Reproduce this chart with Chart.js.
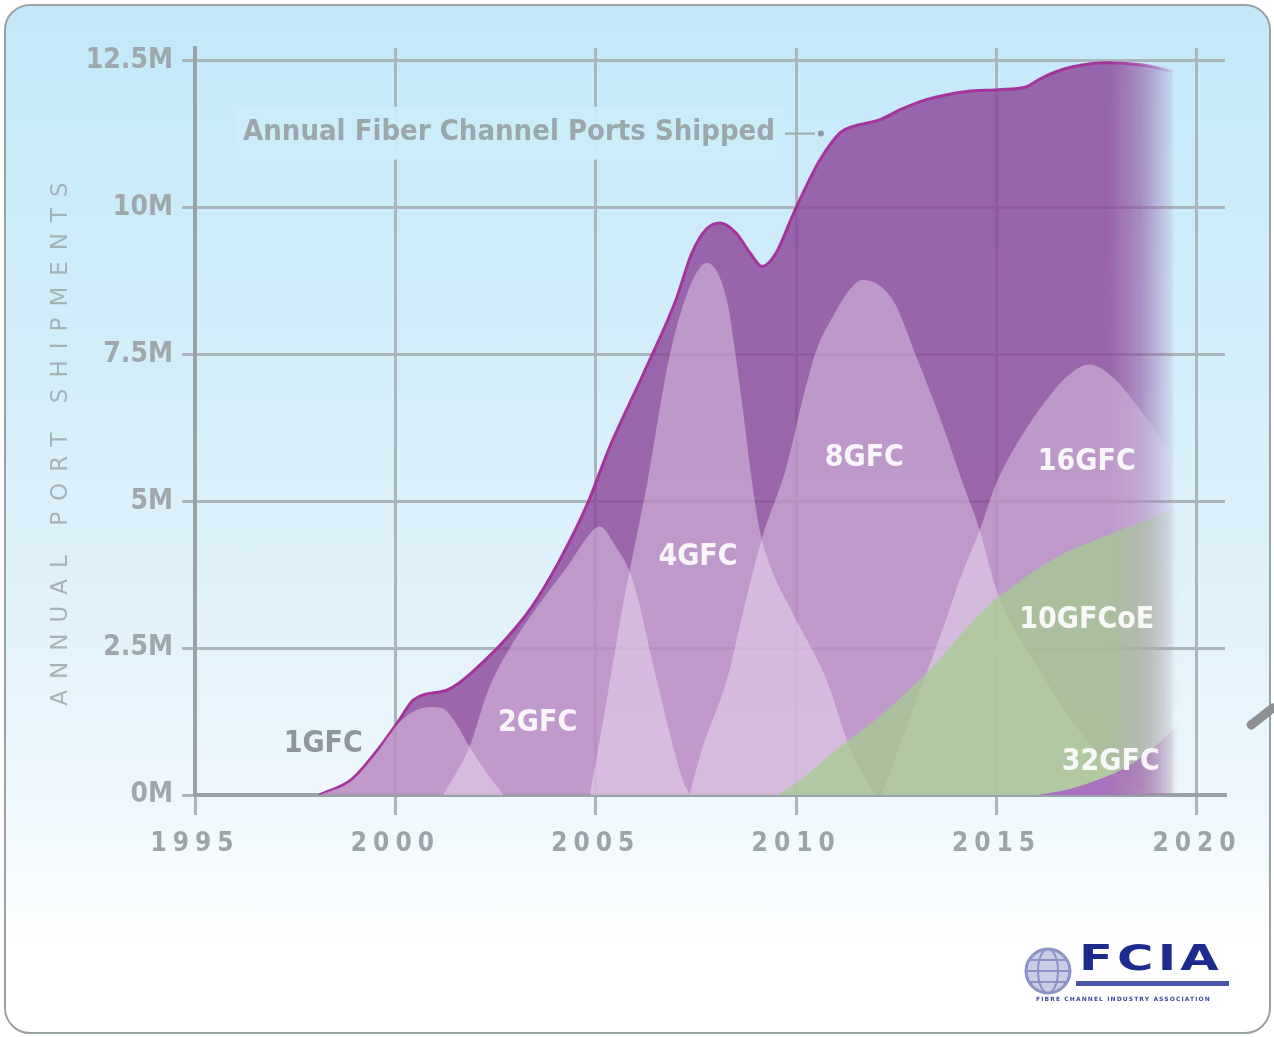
<!DOCTYPE html>
<html>
<head>
<meta charset="utf-8">
<script src="https://cdn.jsdelivr.net/npm/chart.js@4.4.1/dist/chart.umd.min.js"></script>
<style>
  html, body { margin: 0; padding: 0; background: #ffffff; }
  body { width: 1274px; height: 1037px; position: relative; overflow: hidden; font-family: 'DejaVu Sans', sans-serif; }
  #card {
    position: absolute; left: 4px; top: 4px; width: 1267px; height: 1030px;
    box-sizing: border-box; border: 2px solid #9aa1a5; border-radius: 26px;
    background: linear-gradient(to bottom, #c4e8f8 0%, #d1edf9 30%, #e1f2fb 60%, #eff8fd 78%, #ffffff 92%);
  }
  #chart { position: absolute; left: 0; top: 0; }
  #stroke {
    position: absolute; left: 1244px; top: 712px; width: 36px; height: 9px;
    background: #8c9093; border-radius: 4px; transform: rotate(-38deg);
  }
  #fcia {
    position: absolute; left: 1079px; top: 937px; font: 900 36px 'DejaVu Sans', sans-serif;
    color: #1d2b8c; letter-spacing: 3px; transform-origin: 0 0; transform: scaleX(1.38);
  }
  #fciabar { position: absolute; left: 1076px; top: 981px; width: 153px; height: 5px; background: #4a55a8; }
  #fciasub {
    position: absolute; left: 1036px; top: 995px; font: bold 6px 'DejaVu Sans', sans-serif;
    color: #3d4a9a; letter-spacing: 1.1px; white-space: nowrap;
  }
  #globe { position: absolute; left: 1022px; top: 946px; }
</style>
</head>
<body>
<div id="card"></div>
<div id="stroke"></div>
<canvas id="chart" width="1274" height="1037"></canvas>
<svg id="globe" width="52" height="50" viewBox="0 0 52 50">
  <circle cx="26" cy="25" r="22" fill="#c9cde5" stroke="#8c94c3" stroke-width="3"/>
  <ellipse cx="26" cy="25" rx="10" ry="22" fill="none" stroke="#8c94c3" stroke-width="2"/>
  <path d="M4 25 H48 M7 14 H45 M7 36 H45" stroke="#8c94c3" stroke-width="2" fill="none"/>
</svg>
<div id="fcia">FCIA</div>
<div id="fciabar"></div>
<div id="fciasub">FIBRE CHANNEL INDUSTRY ASSOCIATION</div>

<script>
// Axis ticks
const yearTicks = [1995, 2000, 2005, 2010, 2015, 2020];
const portTicks = [0, 2.5, 5, 7.5, 10, 12.5];

// Annual Fibre Channel ports shipped, millions
const totalYears = [1998.1, 1998.9, 1999.5, 2000.1, 2000.45, 2001.3, 2001.6, 2002.2, 2002.8, 2003.4,
  2004.1, 2004.8, 2005.35, 2006.2, 2007.0, 2007.4, 2007.75, 2008.1, 2008.5, 2008.85,
  2009.15, 2009.5, 2009.9, 2010.1, 2010.6, 2011.1, 2011.4, 2012.1, 2012.6, 2013.25,
  2014.25, 2015.05, 2015.75, 2016.05, 2016.5, 2016.9, 2017.75, 2018.55, 2019.05, 2019.4];
const totalPorts = [0, 0.26, 0.72, 1.28, 1.62, 1.79, 1.91, 2.27, 2.69, 3.2,
  4.0, 4.97, 5.93, 7.19, 8.43, 9.23, 9.63, 9.74, 9.57, 9.23,
  9.0, 9.23, 9.85, 10.15, 10.82, 11.28, 11.38, 11.5, 11.67, 11.84,
  11.98, 12.01, 12.06, 12.18, 12.32, 12.4, 12.47, 12.44, 12.38, 12.32];

// Per-generation shipments, millions
const gfc1Years = [1998.1, 1998.9, 1999.5, 2000.1, 2000.5, 2000.9, 2001.2, 2001.45, 2001.85, 2002.25, 2002.7];
const gfc1Ports = [0, 0.24, 0.69, 1.24, 1.44, 1.5, 1.47, 1.28, 0.82, 0.4, 0];

const gfc2Years = [2001.2, 2001.85, 2002.3, 2002.8, 2003.45, 2004.3, 2004.95, 2005.1, 2005.47, 2005.92, 2006.52, 2007.17, 2007.35];
const gfc2Ports = [0, 0.82, 1.76, 2.44, 3.12, 3.9, 4.52, 4.57, 4.26, 3.66, 1.96, 0.26, 0];

const gfc4Years = [2004.85, 2005.1, 2005.4, 2005.7, 2006.0, 2006.3, 2006.55, 2006.85, 2007.27, 2007.77,
  2008.27, 2008.47, 2008.67, 2008.89, 2009.09, 2009.34, 2009.91, 2010.76, 2011.33, 2011.96];
const gfc4Ports = [0, 0.94, 2.13, 3.32, 4.34, 5.37, 6.39, 7.5, 8.52, 9.06,
  8.43, 7.58, 6.56, 5.37, 4.51, 3.92, 3.1, 1.96, 0.82, 0];

const gfc8Years = [2007.34, 2007.67, 2008.27, 2008.67, 2009.16, 2009.76, 2010.16, 2010.51, 2010.91, 2011.33, 2011.66,
  2012.41, 2013.0, 2013.58, 2014.15, 2014.58, 2015.0, 2016.07, 2017.24, 2018.32, 2018.82];
const gfc8Ports = [0, 0.82, 1.96, 3.1, 4.4, 5.59, 6.73, 7.58, 8.14, 8.6, 8.77,
  8.43, 7.46, 6.44, 5.32, 4.51, 3.49, 2.13, 0.94, 0.2, 0];

const gfc16Years = [2012.13, 2012.88, 2013.65, 2014.08, 2014.58, 2015.0, 2015.57, 2016.25, 2016.75, 2017.32,
  2017.89, 2018.39, 2018.99, 2019.39, 2019.99];
const gfc16Ports = [0, 1.4, 2.81, 3.66, 4.51, 5.32, 6.05, 6.73, 7.12, 7.33,
  7.12, 6.73, 6.17, 5.71, 4.86];

const fcoeYears = [2009.55, 2010.1, 2010.9, 2012.1, 2013.4, 2014.6, 2015.5, 2016.5, 2017.5, 2018.5, 2019.4, 2020.0];
const fcoePorts = [0, 0.25, 0.72, 1.35, 2.18, 3.1, 3.6, 4.05, 4.35, 4.62, 4.86, 5.0];

const gfc32Years = [2016.0, 2016.8, 2017.5, 2018.3, 2019.0, 2019.6, 2020.1];
const gfc32Ports = [0, 0.1, 0.25, 0.5, 0.85, 1.25, 1.6];

// In-chart series labels
const seriesLabels = ['1GFC', '2GFC', '4GFC', '8GFC', '16GFC', '10GFCoE', '32GFC'];
const labelYears = [1998.2, 2003.55, 2007.55, 2011.7, 2017.25, 2017.25, 2017.85];
const labelPorts = [0.86, 1.23, 4.05, 5.74, 5.67, 2.98, 0.56];

const totalCaption = 'Annual Fiber Channel Ports Shipped';
const captionYear = 1996.2;
const captionPorts = 11.28;

const FONT = '"DejaVu Sans Condensed", "DejaVu Sans", sans-serif';
const fadeFrom = 2017.8;
const fadeTo = 2019.55;

function points(xs, ys) {
  return xs.map((x, i) => ({ x: x, y: ys[i] }));
}

// Colour that fades out towards the right edge of the plot
function fading(rgb, alpha) {
  return (ctx) => {
    const chart = ctx.chart;
    if (!chart.chartArea) return `rgba(${rgb},${alpha})`;
    const xs = chart.scales.x;
    const g = chart.ctx.createLinearGradient(xs.getPixelForValue(fadeFrom), 0, xs.getPixelForValue(fadeTo), 0);
    g.addColorStop(0, `rgba(${rgb},${alpha})`);
    g.addColorStop(0.45, `rgba(${rgb},${alpha * 0.7})`);
    g.addColorStop(0.8, `rgba(${rgb},${alpha * 0.25})`);
    g.addColorStop(1, `rgba(${rgb},0)`);
    return g;
  };
}

function area(data, fillRgb, fillAlpha, order) {
  return {
    data: data,
    fill: 'origin',
    backgroundColor: fading(fillRgb, fillAlpha),
    borderWidth: 0,
    borderColor: 'rgba(0,0,0,0)',
    pointRadius: 0,
    cubicInterpolationMode: 'monotone',
    order: order
  };
}

const BUMP = '250,242,253';
const datasets = [
  {
    data: points(totalYears, totalPorts),
    fill: 'origin',
    backgroundColor: fading('138,67,152', 0.8),
    borderColor: fading('163,52,156', 1),
    borderWidth: 3,
    pointRadius: 0,
    cubicInterpolationMode: 'monotone',
    order: 9
  },
  area(points(gfc1Years, gfc1Ports), BUMP, 0.37, 5),
  area(points(gfc2Years, gfc2Ports), BUMP, 0.37, 5),
  area(points(gfc4Years, gfc4Ports), BUMP, 0.37, 5),
  area(points(gfc8Years, gfc8Ports), BUMP, 0.37, 5),
  area(points(gfc16Years, gfc16Ports), BUMP, 0.37, 5),
  area(points(fcoeYears, fcoePorts), '161,206,138', 0.7, 2),
  area(points(gfc32Years, gfc32Ports), '168,98,192', 0.85, 1)
];

// Letter-spaced axis text
const spacing = {
  id: 'spacing',
  afterLayout(chart) {
    const xs = chart.scales.x, ys = chart.scales.y;
    if (!xs._spaced) {
      const drawX = xs.drawLabels.bind(xs);
      xs.drawLabels = function (a) { const c = chart.ctx; c.save(); c.letterSpacing = '6px'; drawX(a); c.restore(); };
      xs._spaced = true;
    }
    if (!ys._spaced) {
      const drawT = ys.drawTitle.bind(ys);
      ys.drawTitle = function (a) { const c = chart.ctx; c.save(); c.translate(0, 17); c.letterSpacing = '11px'; drawT(a); c.restore(); };
      ys._spaced = true;
    }
  }
};

// Caption for the total curve, on a backing panel above the grid
const caption = {
  id: 'caption',
  beforeDatasetsDraw(chart) {
    const c = chart.ctx, xs = chart.scales.x, ys = chart.scales.y;
    const x0 = xs.getPixelForValue(captionYear), y0 = ys.getPixelForValue(captionPorts);
    c.save();
    c.font = 'bold 29px ' + FONT;
    const w = c.measureText(totalCaption).width;
    c.fillStyle = 'rgba(204,235,249,0.97)';
    c.fillRect(x0 - 8, y0 - 26, w + 16, 53);
    c.fillStyle = '#9ca7ac';
    c.textBaseline = 'middle';
    c.textAlign = 'left';
    c.fillText(totalCaption, x0, y0);
    c.strokeStyle = '#9ca7ac';
    c.lineWidth = 2;
    c.beginPath();
    c.moveTo(x0 + w + 10, y0 + 1);
    c.lineTo(x0 + w + 40, y0 + 1);
    c.stroke();
    c.fillStyle = '#8d979c';
    c.beginPath();
    c.arc(x0 + w + 46, y0 + 1, 3, 0, Math.PI * 2);
    c.fill();
    c.restore();
  },
  afterDatasetsDraw(chart) {
    const c = chart.ctx, xs = chart.scales.x, ys = chart.scales.y;
    c.save();
    c.font = 'bold 30px ' + FONT;
    c.textAlign = 'center';
    c.textBaseline = 'middle';
    seriesLabels.forEach((t, i) => {
      c.fillStyle = i === 0 ? '#8e979c' : 'rgba(255,255,255,0.9)';
      c.fillText(t, xs.getPixelForValue(labelYears[i]), ys.getPixelForValue(labelPorts[i]));
    });
    c.restore();
  }
};

new Chart(document.getElementById('chart'), {
  type: 'line',
  data: { datasets: datasets },
  options: {
    responsive: false,
    animation: false,
    events: [],
    layout: { padding: { left: 43, top: 48, right: 49, bottom: 0 } },
    plugins: { legend: { display: false }, tooltip: { enabled: false } },
    scales: {
      x: {
        type: 'linear',
        min: 1995,
        max: 2020.7,
        afterBuildTicks: (s) => { s.ticks = yearTicks.map(v => ({ value: v })); },
        afterFit: (s) => { s.height = 242; },
        grid: { color: '#aab6bc', lineWidth: 3, tickLength: 20 },
        border: { color: '#98a2a7', width: 4 },
        ticks: {
          callback: (v) => String(v),
          color: '#9aa4a9',
          font: { family: FONT, size: 26, weight: 'bold' },
          padding: 14,
          maxRotation: 0,
          autoSkip: false
        }
      },
      y: {
        min: 0,
        max: 12.72,
        afterBuildTicks: (s) => { s.ticks = portTicks.map(v => ({ value: v })); },
        afterFit: (s) => { s.width = 152; },
        grid: { color: '#aab6bc', lineWidth: 3, tickLength: 13 },
        border: { color: '#98a2a7', width: 4 },
        ticks: {
          callback: (v) => v + 'M',
          color: '#9ea8ad',
          font: { family: FONT, size: 28, weight: 'bold' },
          padding: 9,
          autoSkip: false
        },
        title: {
          display: true,
          text: 'ANNUAL PORT SHIPMENTS',
          color: '#a7b2b7',
          font: { family: '"DejaVu Sans", sans-serif', size: 23 },
          padding: { top: 4, bottom: 0 }
        }
      }
    }
  },
  plugins: [spacing, caption]
});
</script>
</body>
</html>
